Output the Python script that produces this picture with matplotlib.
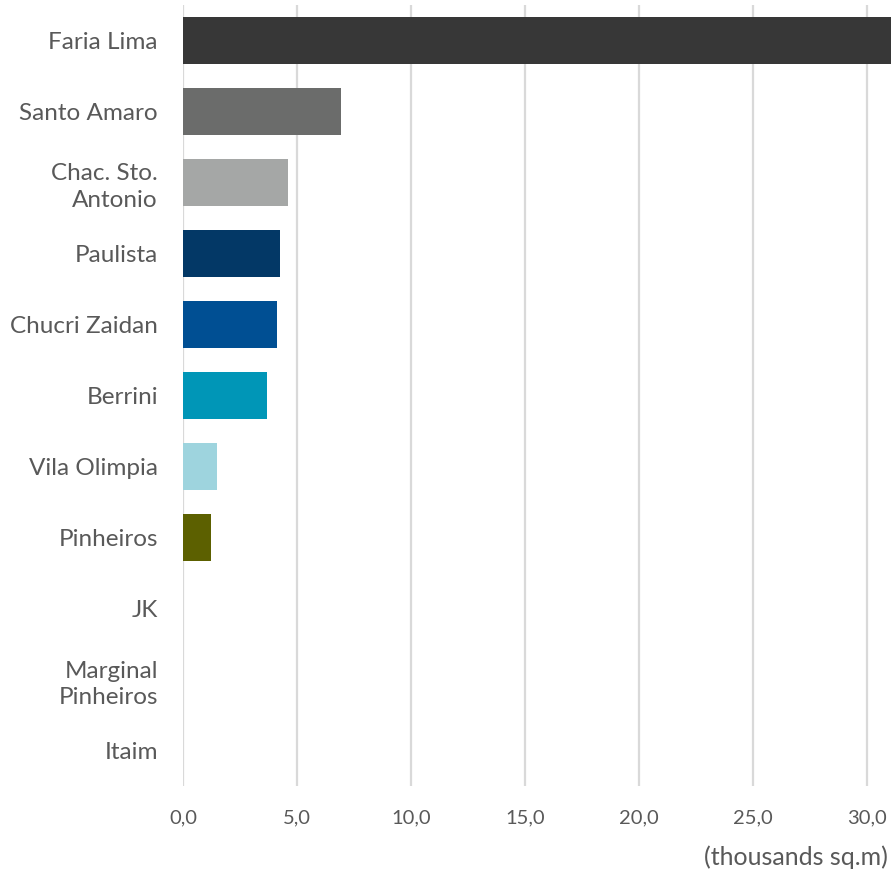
import matplotlib
import matplotlib.pyplot as plt

matplotlib.use('agg')

regions = ["Faria Lima", "Santo Amaro", "Chac. Sto.\nAntonio", "Paulista",
           "Chucri Zaidan", "Berrini", "Vila Olimpia", "Pinheiros", "JK",
           "Marginal\nPinheiros", "Itaim"]
area = [31.5, 6.95, 4.6, 4.25, 4.12, 3.68, 1.5, 1.23, 0, 0, 0]
colors = ["#373737", "#6b6c6b", "#a5a7a6", "#033866", "#004f93",
          "#0096b7", "#9ed4de", "#5c6000", "#5c6000", "#5c6000", "#5c6000"]
xticks = [0, 5, 10, 15, 20, 25, 30]
xtick_labels = ["0,0", "5,0", "10,0", "15,0", "20,0", "25,0", "30,0"]

plt.rcParams['font.family'] = ['Lato', 'DejaVu Sans']
text_color = "#595959"

fig = plt.figure(figsize=(8.91, 8.71), dpi=100)
ax = fig.add_axes([183 / 891, 1 - 786 / 871, (891 - 183) / 891, 781 / 871])

y = range(len(regions))
ax.barh(y, area, height=0.66, color=colors, zorder=2)
ax.set_ylim(len(regions) - 0.5, -0.5)
ax.set_xlim(0, 31.05)

ax.set_yticks(list(y))
ax.set_yticklabels(regions, fontsize=17.5, color=text_color, linespacing=1.35)
ax.set_xticks(xticks)
ax.set_xticklabels(xtick_labels, fontsize=14.5, color=text_color)
ax.tick_params(axis='both', length=0)
ax.tick_params(axis='y', pad=18)
ax.tick_params(axis='x', pad=17)

ax.grid(axis='x', color="#d9d9d9", linewidth=1.6, zorder=0)
for s in ax.spines.values():
    s.set_visible(False)

fig.text(888 / 891, 1 - 857 / 871, "(thousands sq.m)", ha='right', va='center',
         fontsize=18, color=text_color)

fig.savefig("out.png", dpi=100)
